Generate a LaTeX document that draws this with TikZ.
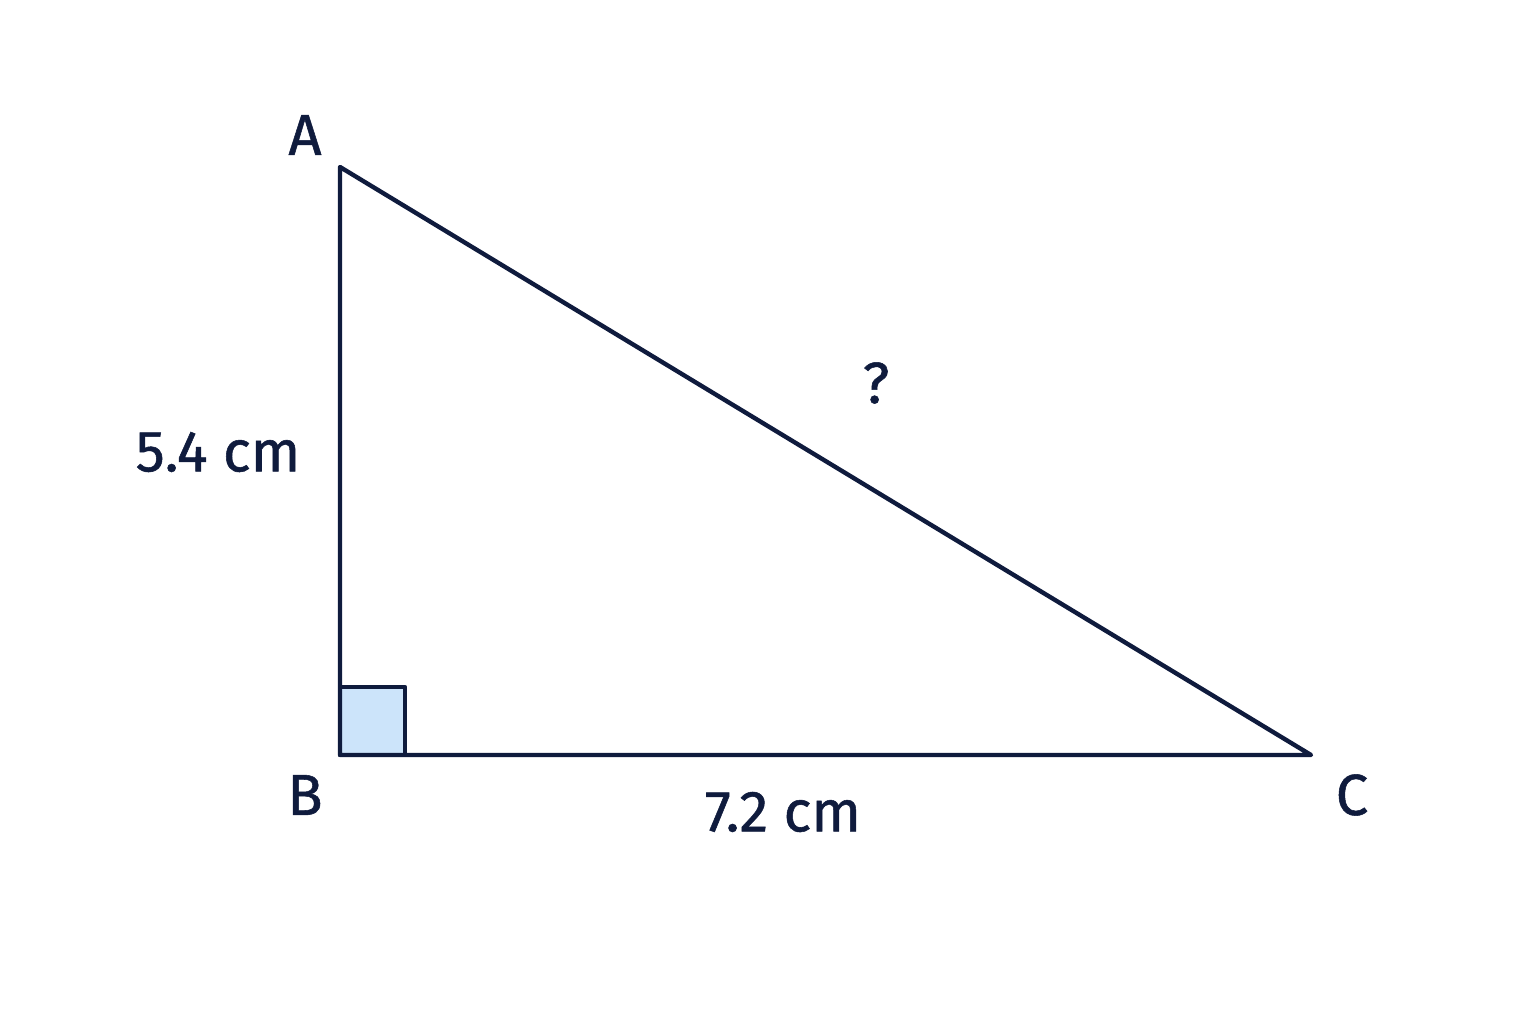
\documentclass[tikz,border=0pt]{standalone}
\usepackage{fontspec}
\setmainfont[FakeBold=0.9]{Fira Sans}
\usepackage{tikz}
\definecolor{navy}{HTML}{0F1B3D}
\definecolor{rightfill}{HTML}{CCE4FA}
\tikzset{
  side/.style={navy, line width=1.25pt, line join=round, line cap=round},
  lbl/.style={navy, font=\fontsize{16.5}{20}\selectfont, inner sep=0pt}
}
\begin{document}
\begin{tikzpicture}
  \useasboundingbox (0,0) rectangle (15.36,10.24);
  \coordinate (A) at (3.40,8.57);
  \coordinate (B) at (3.40,2.69);
  \coordinate (C) at (13.11,2.69);
  % right angle mark
  \filldraw[side, fill=rightfill] (B) rectangle (4.05,3.37);
  \draw[side] (A) -- (B) -- (C) -- cycle;
  \node[lbl] (la) at (3.05,8.89) {A};
  \node[lbl] (lb) at (3.05,2.29) {B};
  \node[lbl] (lc) at (13.52,2.29) {C};
   \node[lbl] (lab) at (2.18,5.72) {5.4 cm};
   \node[lbl] (lbc) at (7.83,2.12) {7.2 cm};
   \node[lbl] (lac) at (8.76,6.41) {?};
\end{tikzpicture}
\end{document}
